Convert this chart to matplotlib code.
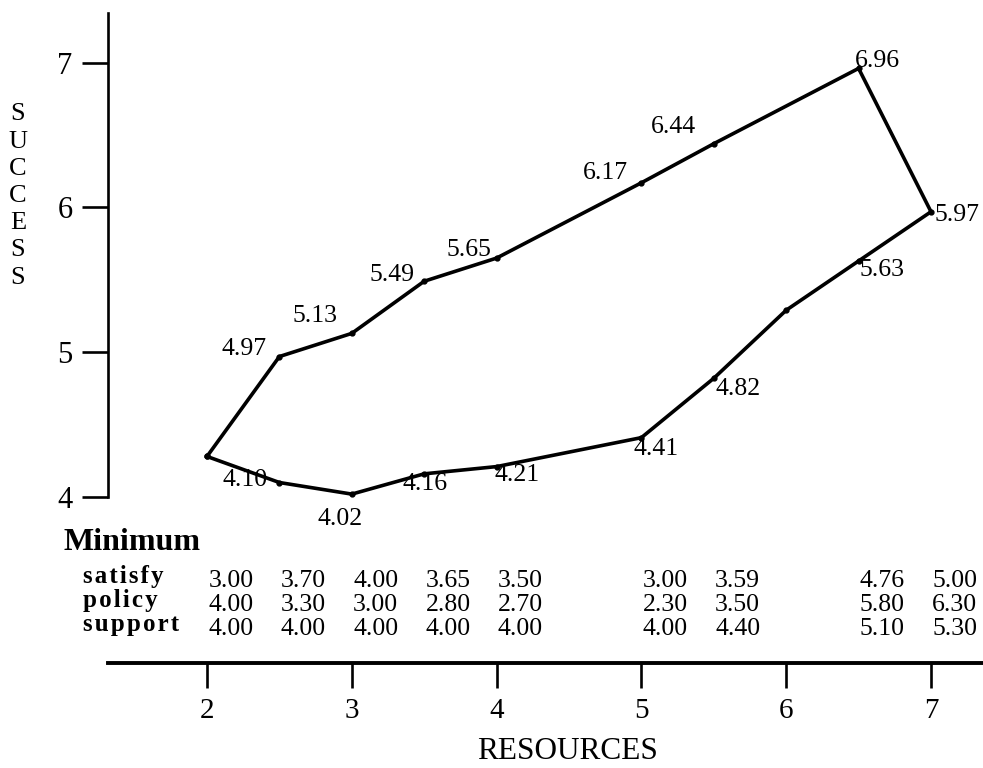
import matplotlib
matplotlib.use("Agg")
import matplotlib.pyplot as plt
from matplotlib.transforms import blended_transform_factory

plt.rcParams['font.family'] = ['Liberation Serif', 'DejaVu Serif']

# boundary of the success / resources region
lower_res = [2, 2.5, 3, 3.5, 4, 5, 5.5, 6, 6.5, 7]
lower_success = [4.28, 4.10, 4.02, 4.16, 4.21, 4.41, 4.82, 5.29, 5.63, 5.97]
lower_labeled = [False, True, True, True, True, True, True, False, True, True]
upper_res = [6.5, 5.5, 5, 4, 3.5, 3, 2.5]
upper_success = [6.96, 6.44, 6.17, 5.65, 5.49, 5.13, 4.97]

# minimum values table
table_res = [2, 2.5, 3, 3.5, 4, 5, 5.5, 6.5, 7]
row_names = ['satisfy', 'policy', 'support']
satisfy = [3.00, 3.70, 4.00, 3.65, 3.50, 3.00, 3.59, 4.76, 5.00]
policy = [4.00, 3.30, 3.00, 2.80, 2.70, 2.30, 3.50, 5.80, 6.30]
support = [4.00, 4.00, 4.00, 4.00, 4.00, 4.00, 4.40, 5.10, 5.30]

x_ticks = [2, 3, 4, 5, 6, 7]
y_ticks = [4, 5, 6, 7]

# label offsets in pixels (dx, dy) for the labelled points
lower_offsets = [(-34, 5), (-12, -22), (1, -8), (20, -6), (15, -9), (24, -8), (23, -7), (26, -1)]
upper_offsets = [(19, 10), (-40, 19), (-36, 12), (-28, 11), (-32, 9), (-37, 20), (-35, 10)]

W, H = 983, 768
PX = 144.8  # pixels per unit on both axes


def fx(px):
    return px / W


def fy(py):
    return 1 - py / H


fig = plt.figure(figsize=(W / 100, H / 100), dpi=100)

xlim = (2 - (207 - 108) / PX, 2 + (983 - 207) / PX)

# main plot with the SUCCESS axis
ax = fig.add_axes([fx(108), fy(497), fx(983) - fx(108), fy(13) - fy(497)])
ax.set_xlim(*xlim)
ax.set_ylim(4, 4 + (497 - 13) / PX)
ax.set_facecolor('none')
for s in ['top', 'right', 'bottom']:
    ax.spines[s].set_visible(False)
ax.spines['left'].set_linewidth(1.9)
ax.set_xticks([])
ax.set_yticks(y_ticks)
ax.tick_params(axis='y', direction='out', length=18.5, width=1.9, pad=7, labelsize=22)

path_x = lower_res + upper_res + [lower_res[0]]
path_y = lower_success + upper_success + [lower_success[0]]
ax.plot(path_x, path_y, color='black', lw=2.6, marker='o', ms=3.5, clip_on=False)

lab_pts = [(x, y) for x, y, l in zip(lower_res, lower_success, lower_labeled) if l]
lab_pts += list(zip(upper_res, upper_success))
for (x, y), off in zip(lab_pts, lower_offsets + upper_offsets):
    ax.annotate(f'{y:.2f}', (x, y), xytext=off, textcoords='offset pixels',
                ha='center', va='center_baseline', fontsize=18.5, annotation_clip=False)

# bottom RESOURCES axis
ax2 = fig.add_axes([fx(108), fy(663), fx(983) - fx(108), 0.0001])
ax2.set_xlim(*xlim)
ax2.set_facecolor('none')
for s in ['top', 'right', 'left']:
    ax2.spines[s].set_visible(False)
ax2.spines['bottom'].set_linewidth(2.8)
ax2.set_yticks([])
ax2.set_xticks(x_ticks)
ax2.tick_params(axis='x', direction='out', length=18, width=1.9, pad=7, labelsize=21)

# axis titles
fig.text(fx(568), fy(748), 'RESOURCES', ha='center', va='center_baseline', fontsize=22.5)
for i, ch in enumerate('SUCCESS'):
    fig.text(fx(18), fy(112 + 27.2 * i), ch, ha='center', va='center_baseline', fontsize=19)

# minimum table
fig.text(fx(63), fy(550), 'Minimum', ha='left', va='baseline', fontsize=23, weight='bold')
tr = blended_transform_factory(ax.transData, fig.transFigure)
rows = [satisfy, policy, support]
for r, (name, vals) in enumerate(zip(row_names, rows)):
    base = 587 + 24 * r
    fig.text(fx(83), fy(base - 4), '\u200a'.join(name), ha='left', va='baseline',
             fontsize=18, weight='bold')
    for x, v in zip(table_res, vals):
        ax.text(x + 0.165, fy(base), f'{v:.2f}', transform=tr, ha='center',
                va='baseline', fontsize=18.5, clip_on=False)

fig.savefig('out.png', dpi=100)
